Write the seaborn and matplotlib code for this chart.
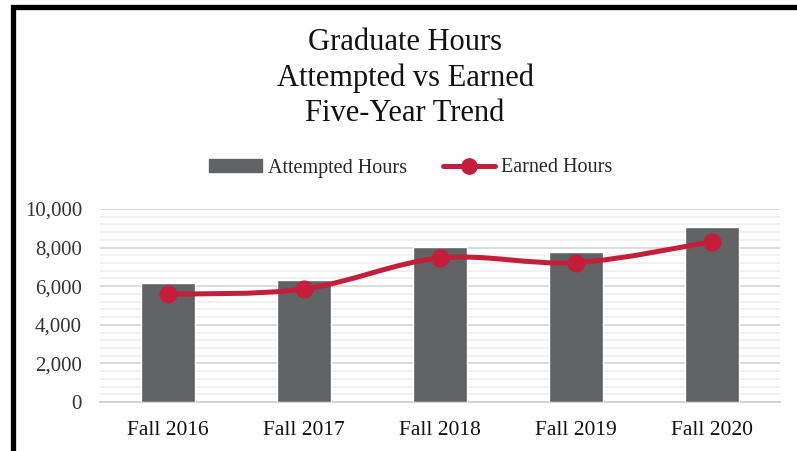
import numpy as np
import pandas as pd
import matplotlib
matplotlib.use("Agg")
import matplotlib.pyplot as plt
from matplotlib.path import Path
from matplotlib.patches import PathPatch, Rectangle
from matplotlib.lines import Line2D
from matplotlib.ticker import MultipleLocator, FuncFormatter
import seaborn as sns

terms = ["Fall 2016", "Fall 2017", "Fall 2018", "Fall 2019", "Fall 2020"]
attempted = [6150, 6300, 8030, 7790, 9050]
earned = [5580, 5850, 7460, 7220, 8300]

bar_color = "#616264"
line_color = "#C41E3A"

sns.set_style("white")
plt.rcParams["font.family"] = ["Liberation Serif", "DejaVu Serif"]

df = pd.DataFrame({"term": terms, "attempted": attempted, "earned": earned})

fig = plt.figure(figsize=(7.97, 4.51), dpi=100)
ax = fig.add_axes([100 / 797, 1 - 402 / 451, 680 / 797, 193 / 451])

sns.barplot(data=df, x="term", y="attempted", color=bar_color, width=0.4,
            saturation=1, ax=ax, zorder=3)

# smoothed line (Excel style: Catmull-Rom through the points)
xs = np.arange(len(earned), dtype=float)
ys = np.array(earned, dtype=float)
verts = [(xs[0], ys[0])]
codes = [Path.MOVETO]
for i in range(len(xs) - 1):
    p0 = np.array([xs[max(i - 1, 0)], ys[max(i - 1, 0)]])
    p1 = np.array([xs[i], ys[i]])
    p2 = np.array([xs[i + 1], ys[i + 1]])
    p3 = np.array([xs[min(i + 2, len(xs) - 1)], ys[min(i + 2, len(xs) - 1)]])
    c1 = p1 + (p2 - p0) / 6
    c2 = p2 - (p3 - p1) / 6
    verts += [tuple(c1), tuple(c2), tuple(p2)]
    codes += [Path.CURVE4] * 3
ax.add_patch(PathPatch(Path(verts, codes), facecolor="none", edgecolor=line_color,
                       lw=3.6, zorder=4, capstyle="round"))
ax.plot(xs, ys, linestyle="none", marker="o", markersize=12, color=line_color, zorder=5)

ax.set_xlim(-0.5, len(terms) - 0.5)
ax.set_ylim(0, 10000)
ax.yaxis.set_major_locator(MultipleLocator(2000))
ax.yaxis.set_minor_locator(MultipleLocator(400))
ax.yaxis.set_major_formatter(FuncFormatter(lambda v, p: f"{int(v):,}"))
ax.grid(axis="y", which="major", color="#D9D9D9", lw=1.3, zorder=0)
ax.grid(axis="y", which="minor", color="#F0F0F0", lw=1.3, zorder=0)
ax.set_axisbelow(True)

for s in ["top", "right", "left"]:
    ax.spines[s].set_visible(False)
ax.spines["bottom"].set_color("#D0D0D0")
ax.spines["bottom"].set_linewidth(1.3)

ax.set_xlabel("")
ax.set_ylabel("")
ax.tick_params(axis="y", which="both", length=0, labelsize=15, pad=13, labelcolor="#333333")
ax.set_xticks(xs)
ax.set_xticklabels(terms)
ax.tick_params(axis="x", which="major", length=0, labelsize=15.5, pad=14, labelcolor="#111111")
ax.set_xticks(np.arange(-0.5, len(terms), 1), minor=True)
ax.tick_params(axis="x", which="minor", length=5, width=1.3, color="#D0D0D0")

fig.text(405 / 797, 1 - 78 / 451, "Graduate Hours\nAttempted vs Earned\nFive-Year Trend",
         ha="center", va="center", fontsize=22, linespacing=1.27, color="#111111")

handles = [Rectangle((0, 0), 1, 1, color=bar_color),
           Line2D([0], [0], color=line_color, lw=3.6, marker="o", markersize=11)]
fig.legend(handles, ["Attempted Hours", "Earned Hours"], loc="center",
           bbox_to_anchor=(411 / 797, 1 - 168 / 451), ncol=2, frameon=False,
           fontsize=14.5, handlelength=2.6, handleheight=0.6, handletextpad=0.3,
           columnspacing=1.8)

# chart frame: thick black edge on the left and top
fig.patches.append(Rectangle((12.5 / 797, -0.2), 1.2, 1 - 6.5 / 451 + 0.2,
                             transform=fig.transFigure, fill=False, ec="black",
                             lw=3.8, clip_on=False))

fig.savefig("out.png", dpi=100)
